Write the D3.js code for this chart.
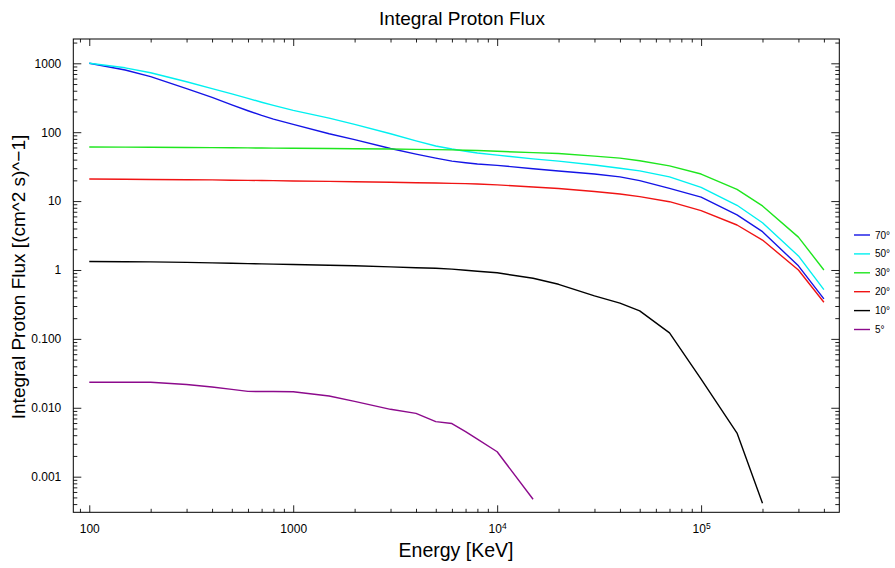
<!DOCTYPE html>
<html>
<head>
<meta charset="utf-8">
<script src="https://cdn.jsdelivr.net/npm/d3@7"></script>
<style>
  body { margin: 0; background: #fff; }
  text { font-family: "Liberation Sans", Arial, sans-serif; }
</style>
</head>
<body>
<svg id="chart" width="895" height="568"></svg>
<script>
// energies in keV, shared by all series (null = no point)
const energies = [100, 150, 200, 300, 400, 500, 600, 700, 800, 1000, 1500, 2000, 3000, 4000, 5000,
  6000, 7000, 8000, 10000, 15000, 20000, 30000, 40000, 50000, 70000, 100000, 150000, 200000, 300000, 400000];

const flux70 = [1000, 800, 640, 430, 320, 250, 205, 175, 155, 130, 95, 78, 58, 48, 42,
  38, 36, 34.5, 33, 29.5, 27.4, 24.7, 22.5, 19.8, 15.3, 11.4, 6.3, 3.6, 1.15, 0.38];
const flux50 = [1000, 860, 730, 540, 430, 360, 310, 272, 245, 207, 160, 130, 95, 75, 63,
  57, 53, 50, 46.5, 41, 38, 33.4, 30, 27.5, 22.5, 15.8, 8.7, 4.85, 1.6, 0.52];
const flux30 = [61, 60.8, 60.5, 60, 59.8, 59.5, 59.2, 59, 58.8, 58.5, 58, 57.5, 57, 56.3, 55.8,
  55.3, 54.8, 54.2, 52.8, 50.5, 49, 45, 42, 38.5, 32.5, 24.7, 14.8, 8.5, 3.0, 1.0];
const flux20 = [20.9, 20.8, 20.6, 20.4, 20.3, 20.1, 20, 19.9, 19.8, 19.6, 19.3, 19.1, 18.8, 18.5, 18.3,
  18.1, 17.9, 17.7, 17.2, 16, 15.2, 13.8, 12.7, 11.6, 9.8, 7.26, 4.5, 2.72, 1.0, 0.34];
const flux10 = [1.33, 1.32, 1.31, 1.29, 1.27, 1.25, 1.235, 1.225, 1.215, 1.2, 1.17, 1.15, 1.11, 1.08, 1.06,
  1.03, 0.99, 0.96, 0.91, 0.76, 0.62, 0.42, 0.33, 0.255, 0.122, 0.026, 0.0043, 0.00041, null, null];
const flux5 = [0.0235, 0.0235, 0.0235, 0.0218, 0.02, 0.0185, 0.0173, 0.0172, 0.0172, 0.0171, 0.0148, 0.0124, 0.0095, 0.0083, 0.0063,
  0.0059, 0.0045, 0.0035, 0.0023, 0.00047, null, null, null, null, null, null, null, null, null, null];

const seriesNames = ["70°", "50°", "30°", "20°", "10°", "5°"];
const seriesValues = [flux70, flux50, flux30, flux20, flux10, flux5];
const seriesColors = ["#1414e6", "#00f0f0", "#1ee61e", "#f01414", "#000000", "#8c0a8c"];

const xMajor = [100, 1000, 10000, 100000];
const yMajor = [1000, 100, 10, 1, 0.1, 0.01, 0.001];
const yLabels = ["1000", "100", "10", "1", "0.100", "0.010", "0.001"];

const plotLeft = 73.3, plotRight = 839.3, plotTop = 39, plotBottom = 512.3;

const svg = d3.select("#chart");

const x = d3.scaleLog()
  .domain([83.5, 476000])
  .range([plotLeft, plotRight]);

const y = d3.scaleLog()
  .domain([3.04e-4, 2253])
  .range([plotBottom, plotTop]);

// minor ticks
const xMinor = [];
for (let p = 1; p <= 5; p++) {
  for (let m = 2; m <= 9; m++) {
    const v = m * Math.pow(10, p);
    if (v > x.domain()[0] && v < x.domain()[1]) xMinor.push(v);
  }
}
const yMinor = [];
for (let p = -4; p <= 3; p++) {
  for (let m = 2; m <= 9; m++) {
    const v = m * Math.pow(10, p);
    if (v > y.domain()[0] && v < y.domain()[1]) yMinor.push(v);
  }
}

function styleAxis(g) {
  g.select(".domain").remove();
  g.selectAll("line").attr("stroke", "#222").attr("stroke-width", 1);
  g.selectAll("text").attr("fill", "#000").style("font-size", "12px");
}

// bottom
svg.append("g")
  .attr("transform", `translate(0,${plotBottom})`)
  .call(d3.axisBottom(x).tickValues(xMinor).tickSize(-3.5).tickFormat(""))
  .call(styleAxis);
const xb = svg.append("g")
  .attr("transform", `translate(0,${plotBottom})`)
  .call(d3.axisBottom(x).tickValues(xMajor).tickSizeInner(-7).tickSizeOuter(0).tickPadding(12).tickFormat(""))
  .call(styleAxis);

xb.selectAll(".tick text").each(function (d) {
  const t = d3.select(this);
  const p = Math.round(Math.log10(d));
  if (p <= 3) {
    t.text(String(d));
  } else {
    t.text("10");
    t.append("tspan").attr("dy", "-0.5em").style("font-size", "8.5px").text(String(p));
  }
});

// top
svg.append("g")
  .attr("transform", `translate(0,${plotTop})`)
  .call(d3.axisTop(x).tickValues(xMinor).tickSize(-3.5).tickFormat(""))
  .call(styleAxis);
svg.append("g")
  .attr("transform", `translate(0,${plotTop})`)
  .call(d3.axisTop(x).tickValues(xMajor).tickSize(-7).tickFormat(""))
  .call(styleAxis);

// left
svg.append("g")
  .attr("transform", `translate(${plotLeft},0)`)
  .call(d3.axisLeft(y).tickValues(yMinor).tickSize(-4).tickFormat(""))
  .call(styleAxis);
svg.append("g")
  .attr("transform", `translate(${plotLeft},0)`)
  .call(d3.axisLeft(y).tickValues(yMajor).tickSize(-8).tickPadding(12)
    .tickFormat((d, i) => yLabels[i]))
  .call(styleAxis);

// right
svg.append("g")
  .attr("transform", `translate(${plotRight},0)`)
  .call(d3.axisRight(y).tickValues(yMinor).tickSize(-4).tickFormat(""))
  .call(styleAxis);
svg.append("g")
  .attr("transform", `translate(${plotRight},0)`)
  .call(d3.axisRight(y).tickValues(yMajor).tickSize(-8).tickFormat(""))
  .call(styleAxis);

// frame
svg.append("rect")
  .attr("x", plotLeft)
  .attr("y", plotTop)
  .attr("width", plotRight - plotLeft)
  .attr("height", plotBottom - plotTop)
  .attr("fill", "none")
  .attr("stroke", "#000")
  .attr("stroke-width", 1);

// lines
const line = d3.line()
  .defined(d => d[1] != null)
  .x(d => x(d[0]))
  .y(d => y(d[1]));

const plot = svg.append("g");
seriesValues.forEach((vals, i) => {
  plot.append("path")
    .datum(energies.map((e, j) => [e, vals[j]]))
    .attr("fill", "none")
    .attr("stroke", seriesColors[i])
    .attr("stroke-width", 1.4)
    .attr("stroke-linejoin", "round")
    .attr("d", line);
});

// legend
const legend = svg.append("g").attr("transform", "translate(854,235)");
seriesNames.forEach((name, i) => {
  const row = legend.append("g").attr("transform", `translate(0,${i * 18.9})`);
  row.append("line")
    .attr("x1", 0).attr("x2", 16)
    .attr("stroke", seriesColors[i])
    .attr("stroke-width", 1.4);
  row.append("text")
    .attr("x", 21)
    .attr("dy", "0.35em")
    .style("font-size", "10px")
    .text(name);
});

// titles
svg.append("text")
  .attr("x", 462)
  .attr("y", 25)
  .attr("text-anchor", "middle")
  .style("font-size", "19px")
  .text("Integral Proton Flux");

svg.append("text")
  .attr("x", 456)
  .attr("y", 557)
  .attr("text-anchor", "middle")
  .style("font-size", "19.5px")
  .text("Energy [KeV]");

svg.append("text")
  .attr("transform", "translate(25,277) rotate(-90)")
  .attr("text-anchor", "middle")
  .style("font-size", "19px")
  .text("Integral Proton Flux [(cm^2 s)^\u22121]");
</script>
</body>
</html>
